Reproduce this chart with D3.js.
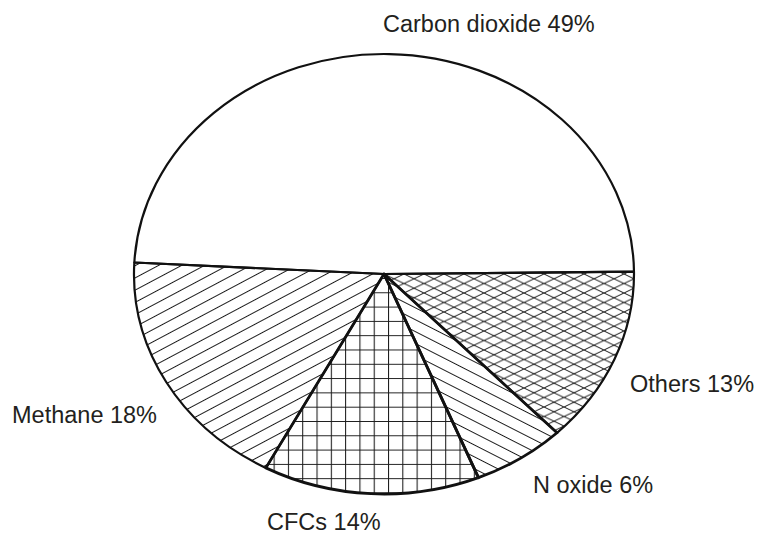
<!DOCTYPE html>
<html>
<head>
<meta charset="utf-8">
<script src="https://cdn.jsdelivr.net/npm/d3@7"></script>
<style>
  html, body { margin: 0; padding: 0; background: #fff; }
  svg { display: block; }
  text { font-family: "Liberation Sans", Arial, Helvetica, sans-serif; fill: #231f20; }
</style>
</head>
<body>
<svg id="chart" width="757" height="536"></svg>
<script>
// Greenhouse gas shares, clockwise from the left edge of the pie
const categories = ["Carbon dioxide", "Others", "N oxide", "CFCs", "Methane"];
const shares = [49, 13, 6, 14, 18];
const fills = ["none", "crosshatch", "hatchDown", "grid", "hatchUp"];

// Where each label sits (left edge x, baseline y)
const labelSpots = [[383, 32], [630, 392], [533, 493], [267, 530], [12, 423]];

const W = 757, H = 536;
const cx = 384, cy = 274, rx = 250, ry = 220;
const squash = ry / rx;

const svg = d3.select("#chart");
const defs = svg.append("defs");

// Pattern space is undone by the inverse of the group's vertical squash,
// so hatch angles and spacings read in screen pixels.
function linePattern(id, spacing, angle, width) {
  const p = defs.append("pattern")
    .attr("id", id)
    .attr("patternUnits", "userSpaceOnUse")
    .attr("width", 40)
    .attr("height", spacing)
    .attr("patternTransform", `scale(1,${1 / squash}) rotate(${angle})`);
  p.append("line")
    .attr("x1", -5).attr("x2", 45)
    .attr("y1", spacing / 2).attr("y2", spacing / 2)
    .attr("stroke", "#1a1a1a").attr("stroke-width", width);
}
linePattern("hatchUp", 10.8, -28, 1.1);
linePattern("hatchDown", 10.6, 27, 1.1);

// Crosshatch: two families of shallow lines
const ch = defs.append("pattern")
  .attr("id", "crosshatch")
  .attr("patternUnits", "userSpaceOnUse")
  .attr("width", 20).attr("height", 9.5)
  .attr("patternTransform", `scale(1,${1 / squash})`);
[[0, 0, 20, 9.5], [-20, 0, 0, 9.5], [20, 0, 40, 9.5],
 [0, 9.5, 20, 0], [-20, 9.5, 0, 0], [20, 9.5, 40, 0]].forEach(d => {
  ch.append("line")
    .attr("x1", d[0]).attr("y1", d[1]).attr("x2", d[2]).attr("y2", d[3])
    .attr("stroke", "#1a1a1a").attr("stroke-width", 1);
});

// Square grid
const gr = defs.append("pattern")
  .attr("id", "grid")
  .attr("patternUnits", "userSpaceOnUse")
  .attr("width", 14.3).attr("height", 14.3)
  .attr("patternTransform", `scale(1,${1 / squash}) translate(4,4)`);
gr.append("path")
  .attr("d", "M0,0.5H14.3M0.5,0V14.3")
  .attr("stroke", "#1a1a1a").attr("stroke-width", 1.1).attr("fill", "none");

const rows = categories.map((name, i) => ({ name, share: shares[i], fill: fills[i], spot: labelSpots[i] }));

const start = -87 * Math.PI / 180;
const pie = d3.pie().sort(null).value(d => d.share)
  .startAngle(start).endAngle(start + 2 * Math.PI);
const arc = d3.arc().innerRadius(0).outerRadius(rx);
const slices = pie(rows);

const g = svg.append("g").attr("transform", `translate(${cx},${cy}) scale(1,${squash})`);

// Filled slices
g.selectAll("path.fill").data(slices).join("path")
  .attr("class", "fill")
  .attr("d", arc)
  .attr("fill", d => d.data.fill === "none" ? "#fff" : `url(#${d.data.fill})`)
  .attr("stroke", "none");

// Slice outlines; the lower wedges carry a heavier rule
const heavy = new Set(["CFCs", "N oxide"]);
g.selectAll("path.edge").data(slices.filter(d => !heavy.has(d.data.name))).join("path")
  .attr("class", "edge")
  .attr("d", arc)
  .attr("fill", "none")
  .attr("stroke", "#111")
  .attr("stroke-width", 2.2)
  .attr("stroke-linejoin", "round")
  .attr("vector-effect", "non-scaling-stroke");
g.selectAll("path.heavy").data(slices.filter(d => heavy.has(d.data.name))).join("path")
  .attr("class", "heavy")
  .attr("d", arc)
  .attr("fill", "none")
  .attr("stroke", "#111")
  .attr("stroke-width", 2.8)
  .attr("stroke-linejoin", "round")
  .attr("vector-effect", "non-scaling-stroke");

// Labels
svg.selectAll("text.lbl").data(rows).join("text")
  .attr("class", "lbl")
  .attr("x", d => d.spot[0])
  .attr("y", d => d.spot[1])
  .attr("font-size", 23.5)
  .text(d => `${d.name} ${d.share}%`);
</script>
</body>
</html>
